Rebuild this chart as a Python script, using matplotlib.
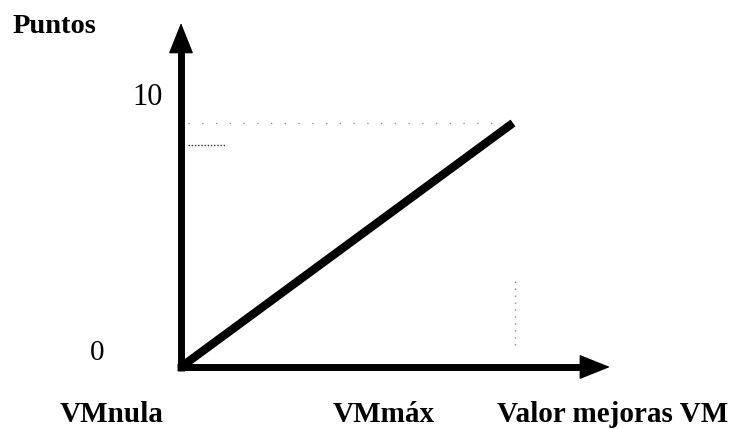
import numpy as np
import matplotlib.pyplot as plt

# datos del esquema
vm = [0, 1]          # VMnula -> VMmax
puntos = [0, 10]     # 0 -> 10 puntos
ref_sup = 10
ref_inf = 9.1

W, H = 731, 429
fig = plt.figure(figsize=(W / 100, H / 100), dpi=100)
# ejes: origen en pixel (181, 367), VMmax en x=513, 10 puntos en y=123
ax = fig.add_axes([181 / W, (H - 367) / H, (513 - 181) / W, (367 - 123) / H])
ax.set_xlim(0, 1)
ax.set_ylim(0, 10)
ax.axis("off")

serif = ["Liberation Serif", "DejaVu Serif"]

# lineas punteadas de referencia
ax.plot([0.02, 1.0], [ref_sup, ref_sup], color="#8a8a8a", lw=0.9,
        linestyle=(0, (1, 10)), clip_on=False)
ax.plot([0.02, 0.135], [ref_inf, ref_inf], color="#333333", lw=1.0,
        linestyle=(0, (1, 1.3)), clip_on=False)
ax.plot([1.005, 1.005], [0.9, 3.65], color="#8a8a8a", lw=1.0,
        linestyle=(0, (1, 4)), clip_on=False)

# recta de puntuacion
ax.plot(vm, puntos, color="black", lw=6, solid_capstyle="butt", clip_on=False)

# ejes con flecha
ytop, xtop = 14.1, 1.292
ax.plot([0, 0], [-0.15, ytop - 0.6], color="black", lw=5, clip_on=False,
        solid_capstyle="butt")
ax.plot([-0.012, xtop - 0.04], [0, 0], color="black", lw=5, clip_on=False,
        solid_capstyle="butt")
head = dict(arrowstyle="-|>,head_length=1.0,head_width=0.4", color="black",
            lw=1, shrinkA=0, shrinkB=0, mutation_scale=20)
ax.annotate("", xy=(0, ytop), xytext=(0, ytop - 1.0), arrowprops=head,
            annotation_clip=False)
ax.annotate("", xy=(xtop, 0), xytext=(xtop - 0.07, 0), arrowprops=head,
            annotation_clip=False)

# textos
fig.text(13 / W, 1 - 33 / H, "Puntos", fontsize=20.5, fontweight="bold",
         family=serif, va="baseline", ha="left")
fig.text(132 / W, 1 - 105 / H, "10", fontsize=22, family=serif,
         va="baseline", ha="left")
fig.text(90 / W, 1 - 360 / H, "0", fontsize=21, family=serif,
         va="baseline", ha="left")
fig.text(60 / W, 1 - 422 / H, "VMnula", fontsize=21, fontweight="bold",
         family=serif, va="baseline", ha="left")
fig.text(333 / W, 1 - 422 / H, "VMmáx", fontsize=21, fontweight="bold",
         family=serif, va="baseline", ha="left")
fig.text(497 / W, 1 - 422 / H, "Valor mejoras VM", fontsize=21,
         fontweight="bold", family=serif, va="baseline", ha="left")

fig.savefig("out.png", dpi=100)
